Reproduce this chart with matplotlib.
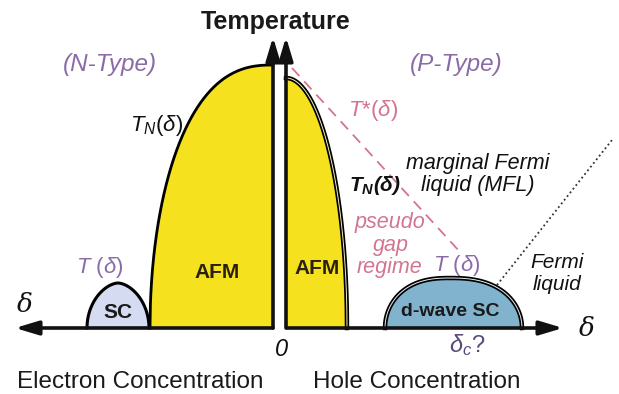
import numpy as np
import matplotlib
matplotlib.use("Agg")
import matplotlib.pyplot as plt

plt.rcParams['font.family'] = ['Liberation Sans', 'DejaVu Sans']
plt.rcParams['mathtext.fontset'] = 'custom'
plt.rcParams['mathtext.rm'] = 'Liberation Sans'
plt.rcParams['mathtext.it'] = 'Liberation Sans:italic'
plt.rcParams['mathtext.bf'] = 'Liberation Sans:bold:italic'

# Doping axis: negative = electron doped, positive = hole doped (arbitrary units)
# Temperature axis in arbitrary units, 0 at the doping axis.
afm_electron = dict(edge=-130.0, peak=-7.0, tmax=263.0, p=2.5, q=2.0)
afm_hole = dict(edge=67.0, peak=6.0, tmax=250.0, p=2.0, q=2.0)
sc_electron = dict(left=-193.0, right=-131.0, peak=-162.0, tmax=45.0, p=1.7, q=2.0)
sc_hole = dict(left=105.0, right=242.0, peak=170.0, tmax=50.0, p=2.5, q=2.0)
t_star = dict(doping=[12.0, 180.0], temp=[260.0, 76.0])
fermi_crossover = dict(doping=[217.0, 332.0], temp=[43.0, 188.0])

YELLOW = '#F6E11E'
SC_E_COLOR = '#D5DCF1'
SC_H_COLOR = '#82B3CE'
PURPLE = '#8A6BA8'
PINK = '#D27590'


def half_dome(edge, peak, tmax, p, q, n=300):
    d = np.linspace(peak, edge, n)
    u = np.abs((d - peak) / (edge - peak))
    t = tmax * np.clip(1 - u ** p, 0, None) ** (1 / q)
    return d, t


def full_dome(left, right, peak, tmax, p, q, n=300):
    dl, tl = half_dome(left, peak, tmax, p, q, n)
    dr, tr = half_dome(right, peak, tmax, p, q, n)
    d = np.concatenate([dl[::-1], dr[1:]])
    t = np.concatenate([tl[::-1], tr[1:]])
    return d, t


fig = plt.figure(figsize=(6.19, 3.94), dpi=100)
ax = fig.add_axes([0, 0, 1, 1])
ax.set_xlim(-280, 339)
ax.set_ylim(-66, 328)
ax.axis('off')

# antiferromagnetic domes
d, t = half_dome(**afm_electron)
ax.fill_between(d, 0, t, color=YELLOW, lw=0, zorder=2)
ax.plot(d, t, color='black', lw=2.0, zorder=3)

d, t = half_dome(**afm_hole)
ax.fill_between(d, 0, t, color=YELLOW, lw=0, zorder=2)
ax.plot(d, t, color='black', lw=3.2, zorder=3)
ax.plot(d, t, color='#F4EFC0', lw=0.7, zorder=3)

# superconducting domes
d, t = full_dome(**sc_electron)
ax.fill_between(d, 0, t, color=SC_E_COLOR, lw=0, zorder=2)
ax.plot(d, t, color='black', lw=2.2, zorder=3)

d, t = full_dome(**sc_hole)
ax.fill_between(d, 0, t, color=SC_H_COLOR, lw=0, zorder=2)
ax.plot(d, t, color='black', lw=3.2, zorder=3)
ax.plot(d, t, color='#E8F0F4', lw=0.7, zorder=3)

# pseudogap line and Fermi-liquid crossover
ax.plot(t_star['doping'], t_star['temp'], color=PINK, lw=1.3,
        dashes=(6, 4), zorder=2.5)
ax.plot(fermi_crossover['doping'], fermi_crossover['temp'], color='#333333',
        lw=1.3, linestyle=(0, (1, 1.6)), zorder=2.5)

# axes arrows
head = '-|>,head_length=1.0,head_width=0.3'
for tail, tip in [((-7, 0), (-7, 291)), ((6, 0), (6, 291)),
                  ((-7, 0), (-265, 0)), ((7, 0), (283, 0))]:
    ax.annotate('', xy=tip, xytext=tail,
                arrowprops=dict(arrowstyle=head, lw=2.6, color='#111111',
                                mutation_scale=14, shrinkA=0, shrinkB=0),
                zorder=4)

kw = dict(ha='center', va='center', zorder=5)
ax.text(-4, 306, 'Temperature', fontsize=18, fontweight='bold', color='#1a1a1a', **kw)
ax.text(-170, 264, '(N-Type)', fontsize=17.5, style='italic', color=PURPLE, **kw)
ax.text(176, 264, '(P-Type)', fontsize=17.5, style='italic', color=PURPLE, **kw)
ax.text(-123, 203, r'$T_N(δ)$', fontsize=16, color='#111111', **kw)
ax.text(93, 218, r'$T$*$(δ)$', fontsize=16, color=PINK, **kw)
ax.text(198, 165, 'marginal Fermi', fontsize=15.5, style='italic', color='#111111', **kw)
ax.text(198, 143, 'liquid (MFL)', fontsize=15.5, style='italic', color='#111111', **kw)
ax.text(95, 143, r'$\mathbf{T_N(δ)}$', fontsize=15, color='#111111', **kw)
ax.text(110, 106, 'pseudo', fontsize=15.5, style='italic', color=PINK, **kw)
ax.text(111, 83, 'gap', fontsize=15.5, style='italic', color=PINK, **kw)
ax.text(110, 61, 'regime', fontsize=15.5, style='italic', color=PINK, **kw)
ax.text(177, 63, r'$T\ (δ)$', fontsize=16, color=PURPLE, **kw)
ax.text(-180, 60, r'$T\ (δ)$', fontsize=16, color=PURPLE, **kw)
ax.text(-63, 56, 'AFM', fontsize=15, fontweight='bold', color='#2a2010', **kw)
ax.text(37, 60, 'AFM', fontsize=15, fontweight='bold', color='#2a2010', **kw)
ax.text(-162, 15, 'SC', fontsize=15, fontweight='bold', color='#1a1a1a', **kw)
ax.text(170, 17, 'd-wave SC', fontsize=14, fontweight='bold', color='#1a1a1a', **kw)
ax.text(187, -17, r'$δ_c$?', fontsize=17, color='#5a4a7a', **kw)
ax.text(277, 66, 'Fermi', fontsize=15, style='italic', color='#111111', **kw)
ax.text(277, 43, 'liquid', fontsize=15, style='italic', color='#111111', **kw)
ax.text(-255, 24, 'δ', fontsize=19, style='italic', family='DejaVu Serif', color='#111111', **kw)
ax.text(307, -1, 'δ', fontsize=19, style='italic', family='DejaVu Serif', color='#111111', **kw)
ax.text(2, -21, '0', fontsize=17, style='italic', color='#111111', **kw)
ax.text(-140, -54, 'Electron Concentration', fontsize=17.5, color='#1a1a1a', **kw)
ax.text(137, -54, 'Hole Concentration', fontsize=17.5, color='#1a1a1a', **kw)

fig.savefig('out.png', dpi=100)
